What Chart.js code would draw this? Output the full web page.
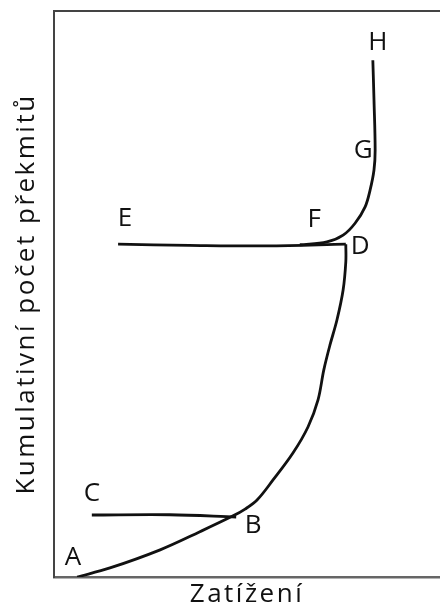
<!DOCTYPE html>
<html>
<head>
<meta charset="utf-8">
<title>Zatížení – kumulativní počet překmitů</title>
<script src="https://cdn.jsdelivr.net/npm/chart.js@4/dist/chart.umd.min.js"></script>
<style>
  html, body { margin: 0; padding: 0; background: #fff; }
  canvas { display: block; }
</style>
</head>
<body>
<canvas id="cycleChart" width="440" height="610"></canvas>
<script>
// curve A -> B -> D (loading branch)
const abdX = [6.0, 14.5, 27.5, 37.8, 46.4, 49.5, 52.6, 56.7, 61.9, 65.8, 68.4, 69.9, 71.5, 73.3, 74.9, 75.6, 75.6];
const abdY = [0.0, 1.6, 4.8, 8.0, 10.8, 12.0, 13.6, 17.1, 21.9, 26.5, 31.3, 36.6, 41.0, 45.4, 50.7, 55.7, 58.8];

// unloading B -> C
const cbX = [9.8, 30.0, 47.2];
const cbY = [10.95, 11.0, 10.6];

// unloading D -> E
const deX = [75.6, 55.0, 35.0, 16.6];
const deY = [58.8, 58.5, 58.6, 58.8];

// reloading F -> G -> H
const fghX = [63.7, 70.7, 74.9, 78.0, 80.6, 81.9, 82.9, 83.2, 82.9, 82.6];
const fghY = [58.7, 59.2, 60.4, 62.5, 65.4, 68.4, 71.9, 75.4, 84.3, 91.3];

// point letters
const pointNames = ['A', 'B', 'C', 'D', 'E', 'F', 'G', 'H'];
const pointX = [4.9, 51.6, 9.8, 79.3, 18.4, 67.4, 80.1, 83.9];
const pointY = [3.5, 9.0, 14.7, 58.3, 63.4, 63.1, 75.4, 94.5];

const FONT = '"Open Sans", "DejaVu Sans", sans-serif';

function toPoints(xs, ys) {
    return xs.map((x, i) => ({ x: x, y: ys[i] }));
}

function lineSet(xs, ys) {
    return {
        data: toPoints(xs, ys),
        borderColor: '#111',
        borderWidth: 2.8,
        pointRadius: 0,
        tension: 0.35,
        fill: false
    };
}

// wider spacing of the axis titles, like the original picture
const spacingPlugin = {
    id: 'spacing',
    beforeDraw(chart) {
        chart.ctx.letterSpacing = '2.5px';
    }
};

// top edge of the frame
const frameTopPlugin = {
    id: 'frameTop',
    afterDraw(chart) {
        const { ctx, chartArea } = chart;
        ctx.save();
        ctx.strokeStyle = '#444';
        ctx.lineWidth = 2;
        ctx.beginPath();
        ctx.moveTo(chartArea.left, chartArea.top);
        ctx.lineTo(chartArea.right, chartArea.top);
        ctx.stroke();
        ctx.restore();
    }
};

// letters A..H placed through the scales
const letterPlugin = {
    id: 'letters',
    afterDatasetsDraw(chart) {
        const ctx = chart.ctx;
        const xs = chart.scales.x, ys = chart.scales.y;
        ctx.save();
        ctx.letterSpacing = '0px';
        ctx.font = '26px ' + FONT;
        ctx.fillStyle = '#111';
        ctx.textAlign = 'center';
        ctx.textBaseline = 'middle';
        pointNames.forEach((name, i) => {
            ctx.fillText(name, xs.getPixelForValue(pointX[i]), ys.getPixelForValue(pointY[i]));
        });
        ctx.restore();
    }
};

const ctx = document.getElementById('cycleChart').getContext('2d');
new Chart(ctx, {
    type: 'line',
    data: {
        datasets: [
            lineSet(abdX, abdY),
            lineSet(cbX, cbY),
            lineSet(deX, deY),
            lineSet(fghX, fghY)
        ]
    },
    options: {
        responsive: false,
        animation: false,
        layout: { padding: { top: 11, right: 0, bottom: 0, left: 6 } },
        plugins: { legend: { display: false }, tooltip: { enabled: false } },
        scales: {
            x: {
                type: 'linear', min: 0, max: 100,
                ticks: { display: false },
                grid: { display: false, drawTicks: false },
                border: { display: true, color: '#666', width: 2.5 },
                title: {
                    display: true, text: 'Zatížení', color: '#111',
                    font: { family: FONT, size: 26 },
                    padding: { top: 1.8, bottom: 0 }
                }
            },
            y: {
                type: 'linear', min: 0, max: 100,
                ticks: { display: false },
                grid: { display: false, drawTicks: false },
                border: { display: true, color: '#444', width: 2 },
                title: {
                    display: true, text: 'Kumulativní počet překmitů', color: '#111',
                    font: { family: FONT, size: 26 },
                    padding: { top: 5, bottom: 11.8 }
                }
            }
        }
    },
    plugins: [spacingPlugin, frameTopPlugin, letterPlugin]
});
</script>
</body>
</html>
